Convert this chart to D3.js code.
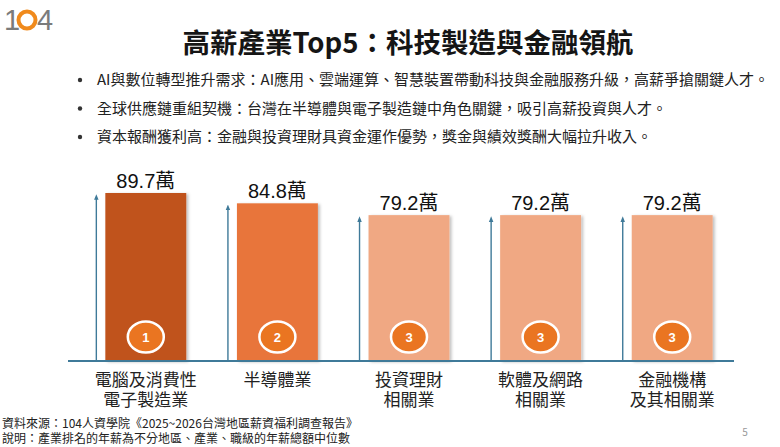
<!DOCTYPE html>
<html>
<head>
<meta charset="utf-8">
<script src="https://cdn.jsdelivr.net/npm/d3@7"></script>
<style>
  html, body { margin: 0; padding: 0; background: #fff; }
  svg { display: block; font-family: "Noto Sans CJK TC", "Noto Sans", sans-serif; }
</style>
</head>
<body>
<svg id="chart" width="780" height="447"></svg>
<script>

// DATA
// --------------------------------------------------------------------------

var industries = [
  ['電腦及消費性', '電子製造業'],
  ['半導體業'],
  ['投資理財', '相關業'],
  ['軟體及網路', '相關業'],
  ['金融機構', '及其相關業']
];
var salaries = [89.7, 84.8, 79.2, 79.2, 79.2];     // 年薪中位數（萬）
var ranks = [1, 2, 3, 3, 3];
var barColors = ['#c0521b', '#e8743b', '#f0a883', '#f0a883', '#f0a883'];

var title = '高薪產業Top5：科技製造與金融領航';
var bullets = [
  'AI與數位轉型推升需求：AI應用、雲端運算、智慧裝置帶動科技與金融服務升級，高薪爭搶關鍵人才。',
  '全球供應鏈重組契機：台灣在半導體與電子製造鏈中角色關鍵，吸引高薪投資與人才。',
  '資本報酬獲利高：金融與投資理財具資金運作優勢，獎金與績效獎酬大幅拉升收入。'
];
var notes = [
  '資料來源：104人資學院《2025~2026台灣地區薪資福利調查報告》',
  '說明：產業排名的年薪為不分地區、產業、職級的年薪總額中位數'
];


// SETUP
// --------------------------------------------------------------------------

var svg = d3.select('#chart');
var axisColor = '#3f7a99';
var baseY = 361;

var keys = d3.range(salaries.length);

var x = d3.scaleBand()
  .domain(keys)
  .range([80, 738])
  .paddingInner(0.385)
  .paddingOuter(0.1925);

var y = d3.scaleLinear()
  .domain([10, 89.7])
  .range([baseY, 193]);

// Arrow marker + soft shadow.
var defs = svg.append('defs');
defs.append('marker')
  .attr('id', 'tip')
  .attr('viewBox', '0 0 10 10')
  .attr('refX', 5).attr('refY', 5)
  .attr('markerWidth', 4).attr('markerHeight', 4)
  .attr('orient', 'auto')
  .append('path')
  .attr('d', 'M0,1 L10,5 L0,9 Z')
  .attr('fill', axisColor);

var shadow = defs.append('filter').attr('id', 'shadow')
  .attr('x', '-10%').attr('y', '-10%').attr('width', '130%').attr('height', '120%');
shadow.append('feDropShadow')
  .attr('dx', 2).attr('dy', 1).attr('stdDeviation', 1.5)
  .attr('flood-color', '#000').attr('flood-opacity', 0.25);


// HEADER
// --------------------------------------------------------------------------

// 104 logo.
var logo = svg.append('g').attr('transform', 'translate(4,30)');
logo.append('text').text('1')
  .attr('x', 0).attr('font-family', 'Liberation Sans, sans-serif')
  .attr('font-size', 29).attr('fill', '#7b7b7b');
logo.append('circle')
  .attr('cx', 23).attr('cy', -10).attr('r', 8.5)
  .attr('fill', 'none').attr('stroke', '#f08a1c').attr('stroke-width', 4);
logo.append('text').text('4')
  .attr('x', 33).attr('font-family', 'Liberation Sans, sans-serif')
  .attr('font-size', 29).attr('fill', '#7b7b7b');

svg.append('text')
  .attr('x', 408).attr('y', 53)
  .attr('text-anchor', 'middle')
  .attr('font-size', 27.5).attr('font-weight', 'bold')
  .attr('fill', '#151515')
  .text(title);

var bl = svg.append('g').selectAll('g')
  .data(bullets).enter().append('g')
  .attr('transform', function(d, i) { return 'translate(80,' + (85 + i * 28.5) + ')'; });
bl.append('circle').attr('cx', 0).attr('cy', -5).attr('r', 2.2).attr('fill', '#333');
bl.append('text')
  .attr('x', 17).attr('font-size', 15).attr('fill', '#222')
  .text(function(d) { return d; });


// BARS
// --------------------------------------------------------------------------

var bars = svg.append('g').selectAll('g')
  .data(keys).enter().append('g');

// Vertical arrows beside each bar.
bars.append('line')
  .attr('x1', function(i) { return x(i) - 9; })
  .attr('x2', function(i) { return x(i) - 9; })
  .attr('y1', baseY)
  .attr('y2', function(i) { return y(salaries[i]) + 4; })
  .attr('stroke', axisColor).attr('stroke-width', 1.4)
  .attr('marker-end', 'url(#tip)');

bars.append('rect')
  .attr('x', function(i) { return x(i); })
  .attr('y', function(i) { return y(salaries[i]); })
  .attr('width', x.bandwidth())
  .attr('height', function(i) { return baseY - y(salaries[i]); })
  .attr('fill', function(i) { return barColors[i]; })
  .attr('filter', 'url(#shadow)');

// Value labels.
bars.append('text')
  .attr('x', function(i) { return x(i) + x.bandwidth() / 2; })
  .attr('y', function(i) { return y(salaries[i]) - 5; })
  .attr('text-anchor', 'middle')
  .attr('font-family', 'Liberation Sans, Noto Sans CJK TC, sans-serif')
  .attr('font-size', 20).attr('fill', '#111')
  .text(function(i) { return salaries[i] + '萬'; });

// Rank badges.
bars.append('ellipse')
  .attr('cx', function(i) { return x(i) + x.bandwidth() / 2; })
  .attr('cy', 337)
  .attr('rx', 18).attr('ry', 15.5)
  .attr('fill', '#ea7521')
  .attr('stroke', '#fff').attr('stroke-width', 2.5);
bars.append('text')
  .attr('x', function(i) { return x(i) + x.bandwidth() / 2; })
  .attr('y', 342)
  .attr('text-anchor', 'middle')
  .attr('font-family', 'Liberation Sans, sans-serif')
  .attr('font-size', 13).attr('font-weight', 'bold').attr('fill', '#fff')
  .text(function(i) { return ranks[i]; });

// Category labels, one text per line.
bars.selectAll('text.cat')
  .data(function(i) {
    return industries[i].map(function(s) { return { s: s, i: i }; });
  })
  .enter().append('text')
  .attr('class', 'cat')
  .attr('text-anchor', 'middle')
  .attr('font-size', 17).attr('fill', '#222')
  .attr('x', function(d) { return x(d.i) + x.bandwidth() / 2; })
  .attr('y', function(d, j) { return 386 + j * 20; })
  .text(function(d) { return d.s; });

// Baseline.
svg.append('line')
  .attr('x1', 68).attr('x2', 734)
  .attr('y1', baseY).attr('y2', baseY)
  .attr('stroke', axisColor).attr('stroke-width', 2);


// FOOTER
// --------------------------------------------------------------------------

svg.append('g').selectAll('text')
  .data(notes).enter().append('text')
  .attr('x', 2)
  .attr('y', function(d, i) { return 428 + i * 15; })
  .attr('font-size', 12).attr('fill', '#222')
  .text(function(d) { return d; });

svg.append('text')
  .attr('x', 745).attr('y', 436)
  .attr('text-anchor', 'middle')
  .attr('font-size', 10).attr('fill', '#999')
  .text('5');

</script>
</body>
</html>
